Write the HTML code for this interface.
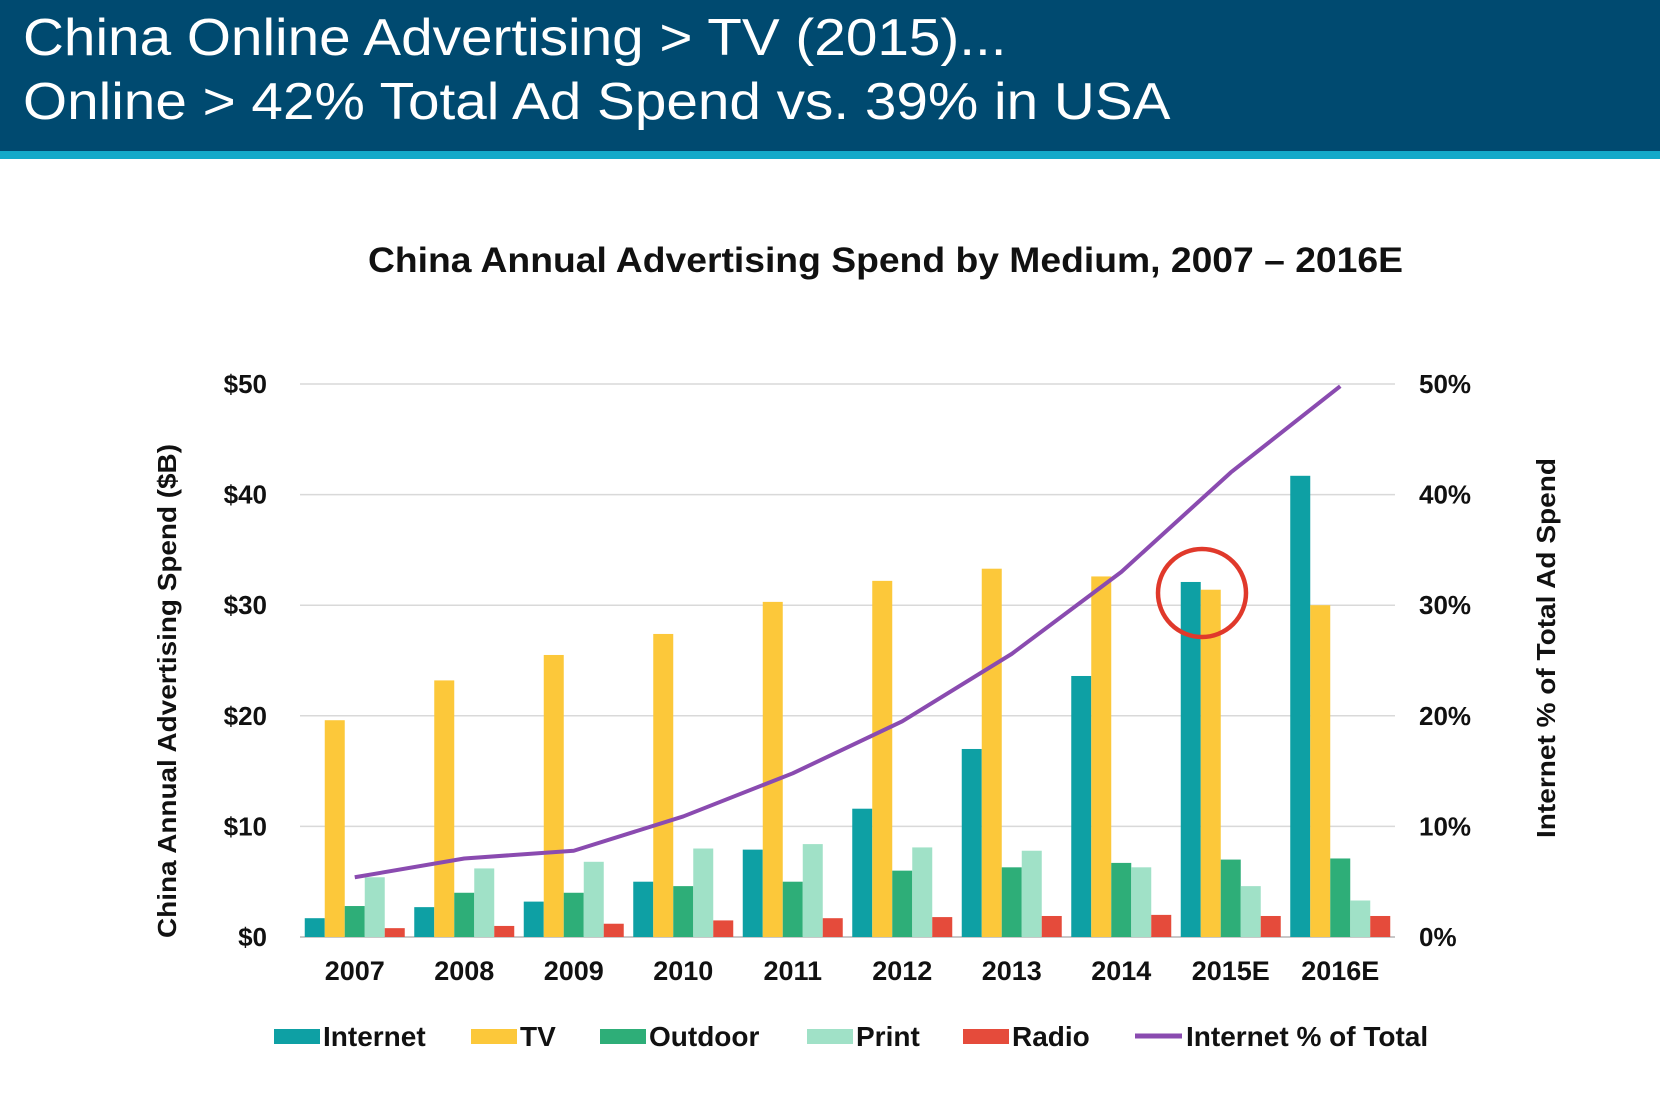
<!DOCTYPE html>
<html><head><meta charset="utf-8"><style>
body{margin:0;width:1660px;height:1104px;background:#fff;overflow:hidden;font-family:"Liberation Sans",Arial,sans-serif}
#hdr{position:absolute;left:0;top:0;width:1660px;height:151px;background:#004a70}
#stripe{position:absolute;left:0;top:151px;width:1660px;height:8px;background:#13a9c9}
.ht{position:absolute;left:23px;color:#fff;font-size:52px;white-space:nowrap;transform-origin:0 0;transform:scaleX(1.09)}
</style></head><body>
<div id="hdr"></div>
<div id="stripe"></div>
<div class="ht" style="top:8px">China Online Advertising &gt; TV (2015)...</div>
<div class="ht" style="top:72px">Online &gt; 42% Total Ad Spend vs. 39% in USA</div>
<svg id="chart" width="1660" height="1104" style="position:absolute;left:0;top:0"></svg>
<script>
const categories=["2007","2008","2009","2010","2011","2012","2013","2014","2015E","2016E"];
const internet=[1.7,2.7,3.2,5.0,7.9,11.6,17.0,23.6,32.1,41.7];
const tv=[19.6,23.2,25.5,27.4,30.3,32.2,33.3,32.6,31.4,30.0];
const outdoor=[2.8,4.0,4.0,4.6,5.0,6.0,6.3,6.7,7.0,7.1];
const print=[5.4,6.2,6.8,8.0,8.4,8.1,7.8,6.3,4.6,3.3];
const radio=[0.8,1.0,1.2,1.5,1.7,1.8,1.9,2.0,1.9,1.9];
const internetPct=[5.4,7.1,7.8,10.9,14.8,19.5,25.6,33.0,42.0,49.8];
const leftTicks=["$0","$10","$20","$30","$40","$50"];
const rightTicks=["0%","10%","20%","30%","40%","50%"];
const NS="http://www.w3.org/2000/svg";
const svg=document.getElementById('chart');
const X0=300,X1=1395,Y0=937,Y1=384;
const step=(X1-X0)/categories.length;
const xc=i=>X0+step*(i+0.5);
const y=v=>Y0-(v/50)*(Y0-Y1);
const yp=p=>Y0-(p/50)*(Y0-Y1);
function mk(tag,attrs,txt){const e=document.createElementNS(NS,tag);for(const k in attrs)e.setAttribute(k,attrs[k]);if(txt!==undefined)e.textContent=txt;svg.appendChild(e);return e;}
let t=mk('text',{x:368,y:272,'font-size':35,'font-weight':'bold',fill:'#111',textLength:1035,lengthAdjust:'spacingAndGlyphs'},'China Annual Advertising Spend by Medium, 2007 \u2013 2016E');


leftTicks.forEach((lab,i)=>{
 const yy=y(i*10);
 const g=mk('line',{x1:X0,x2:X1,y1:yy,y2:yy,stroke:i==0?'#c8c8c8':'#d9d9d9','stroke-width':i==0?2:1.5});
 
 
 const a=mk('text',{x:267,y:yy+9,'text-anchor':'end','font-size':26,'font-weight':'bold',fill:'#111'},lab);
 
 
 const b=mk('text',{x:1419,y:yy+9,'font-size':26,'font-weight':'bold',fill:'#111'},rightTicks[i]);
 
 
});
const series=[[internet,'#0ea0a4','bar-internet'],[tv,'#fcc83a','bar-tv'],[outdoor,'#2eae78','bar-outdoor'],[print,'#a0e1c7','bar-print'],[radio,'#e54b3b','bar-radio']];
const bw=20;
categories.forEach((c,i)=>{
 series.forEach((s,j)=>{
  const v=s[0][i];const x=xc(i)-2.5*bw+j*bw;
  const r=mk('rect',{x:x,y:y(v),width:bw,height:Y0-y(v),fill:s[1]});
  
  
 });
 const l=mk('text',{x:xc(i),y:980,'text-anchor':'middle','font-size':27,'font-weight':'bold',fill:'#111'},c);
 
 
});
const pts=internetPct.map((p,i)=>xc(i)+','+yp(p)).join(' ');
const pl=mk('polyline',{points:pts,fill:'none',stroke:'#8a4bb0','stroke-width':4,'stroke-linejoin':'round'});


const circ=mk('circle',{cx:1202,cy:593,r:44,fill:'none',stroke:'#e0392b','stroke-width':4.5});


const lt=mk('text',{x:0,y:0,transform:'translate(176,691) rotate(-90)','text-anchor':'middle','font-size':26,'font-weight':'bold',fill:'#111',textLength:494,lengthAdjust:'spacingAndGlyphs'},'China Annual Advertising Spend ($B)');


const rt=mk('text',{x:0,y:0,transform:'translate(1555,648) rotate(-90)','text-anchor':'middle','font-size':26,'font-weight':'bold',fill:'#111',textLength:380,lengthAdjust:'spacingAndGlyphs'},'Internet % of Total Ad Spend');


const legend=[['Internet','#0ea0a4',274,'legend-internet'],['TV','#fcc83a',471,'legend-tv'],['Outdoor','#2eae78',600,'legend-outdoor'],['Print','#a0e1c7',807,'legend-print'],['Radio','#e54b3b',963,'legend-radio']];
legend.forEach(L=>{
 const r=mk('rect',{x:L[2],y:1029,width:46,height:15,fill:L[1]});
 
 
 const tx=mk('text',{x:L[2]+49,y:1046,'font-size':28,'font-weight':'bold',fill:'#111'},L[0]);
 
 
});
const ll=mk('line',{x1:1135,x2:1182,y1:1036,y2:1036,stroke:'#8a4bb0','stroke-width':5});


const lx=mk('text',{x:1186,y:1046,'font-size':28,'font-weight':'bold',fill:'#111'},'Internet % of Total');


</script>
</body></html>
